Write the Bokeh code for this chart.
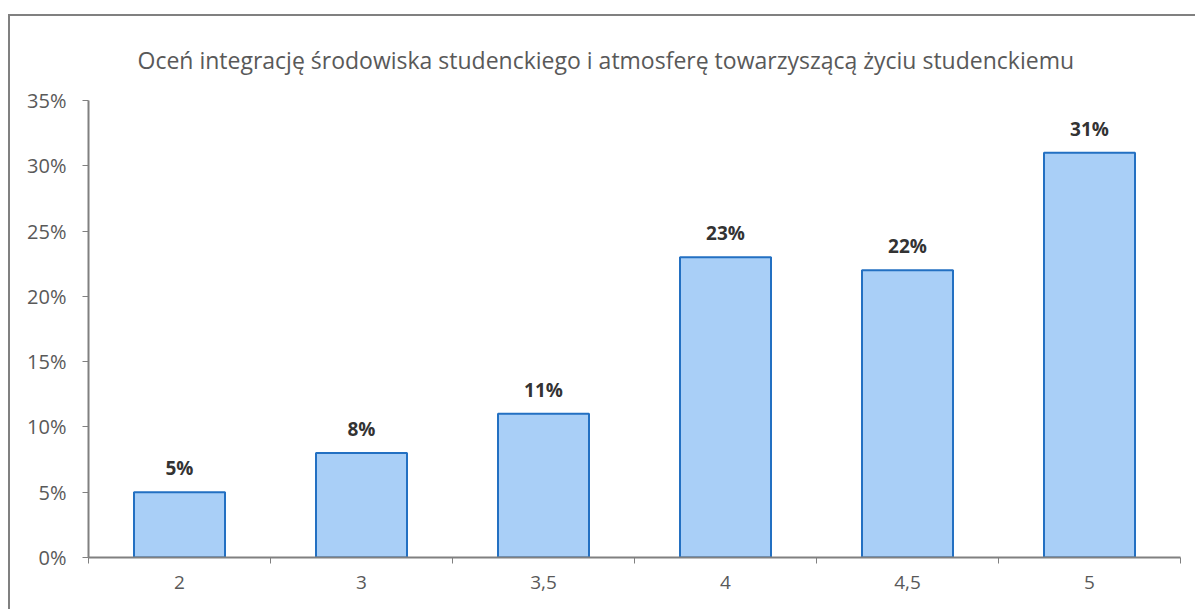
from bokeh.plotting import figure
from bokeh.models import ColumnDataSource, FixedTicker, NumeralTickFormatter, LabelSet, Range1d
from bokeh.core.properties import value
from bokeh.embed import file_html
from bokeh.resources import INLINE

title_text = "Oceń integrację środowiska studenckiego i atmosferę towarzyszącą życiu studenckiemu"
categories = ["2", "3", "3,5", "4", "4,5", "5"]
shares = [0.05, 0.08, 0.11, 0.23, 0.22, 0.31]
share_labels = ["5%", "8%", "11%", "23%", "22%", "31%"]
y_ticks = [0.0, 0.05, 0.10, 0.15, 0.20, 0.25, 0.30, 0.35]

FONT = "Open Sans"
GRAY = "#595959"

xs = [i + 0.5 for i in range(len(categories))]
src = ColumnDataSource(dict(x=xs, top=shares, lab=share_labels))

p = figure(width=1187, height=595, output_backend="svg", toolbar_location=None,
           x_range=Range1d(0, len(categories)), y_range=Range1d(0, 0.35),
           min_border_left=78, min_border_right=17, min_border_top=84, min_border_bottom=54)
p.styles = {"border-left": "2px solid #808080", "border-top": "2px solid #808080",
            "margin-left": "8px", "margin-top": "14px"}
p.outline_line_color = None
p.grid.visible = False
p.background_fill_color = "white"
p.border_fill_color = "white"

p.title.text = title_text
p.title.align = "left"
p.title.text_font = FONT
p.title.text_font_size = "23px"
p.title.text_font_style = "normal"
p.title.text_color = GRAY
p.title.offset = 49
p.title.standoff = 50
if "padding" in p.title.properties():
    p.title.padding = 0
p.title.text_line_height = 1.0

p.vbar(x="x", top="top", width=0.5, bottom=0, source=src,
       fill_color="#a9cff7", line_color="#2370c2", line_width=2)

labels = LabelSet(x="x", y="top", text="lab", source=src, y_offset=11,
                  text_align="center", text_baseline="bottom",
                  text_font=value(FONT), text_font_size="19px", text_font_style="bold",
                  text_color="#333333")
p.add_layout(labels)

xa = p.xaxis[0]
xa.ticker = FixedTicker(ticks=xs, minor_ticks=list(range(len(categories) + 1)))
xa.major_label_overrides = {x: c for x, c in zip(xs, categories)}
xa.major_tick_line_color = None
xa.minor_tick_line_color = "#808080"
xa.minor_tick_out = 6
xa.minor_tick_in = 0
xa.axis_line_color = "#808080"
xa.axis_line_width = 2
xa.major_label_standoff = 12
xa.major_label_text_font = FONT
xa.major_label_text_font_size = "19px"
xa.major_label_text_color = GRAY

ya = p.yaxis[0]
ya.ticker = FixedTicker(ticks=y_ticks)
ya.formatter = NumeralTickFormatter(format="0%")
ya.minor_tick_line_color = None
ya.major_tick_line_color = "#808080"
ya.major_tick_out = 6
ya.major_tick_in = 0
ya.axis_line_color = "#808080"
ya.axis_line_width = 2
ya.major_label_standoff = 16
ya.major_label_text_font = FONT
ya.major_label_text_font_size = "20px"
ya.major_label_text_color = GRAY

open("out.html", "w").write(file_html(p, INLINE))
